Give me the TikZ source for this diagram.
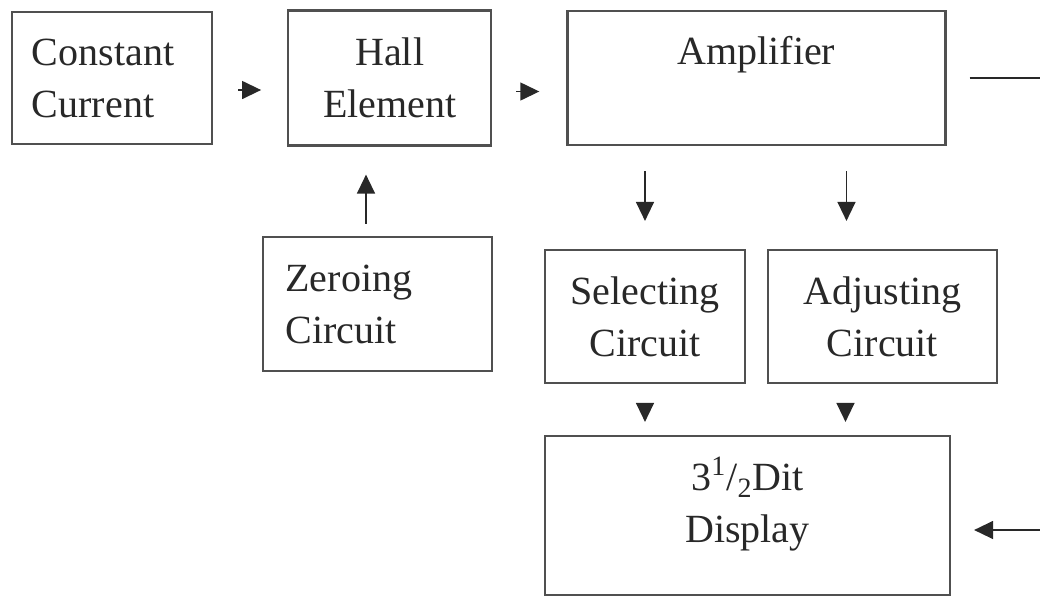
\documentclass[tikz,border=0pt]{standalone}
\usepackage{fontspec}
\setmainfont{Liberation Serif}
\definecolor{BoxGrey}{RGB}{80, 80, 80}
\definecolor{InkGrey}{RGB}{40, 40, 40}
\usepackage{tikz}
\usetikzlibrary{arrows.meta, positioning}
\newcommand{\blockfont}{\fontsize{20}{26}\selectfont}
\tikzset{
  block/.style={
    rectangle, draw=BoxGrey, line width=1.1pt, text=InkGrey,
    font=\blockfont, align=center, inner sep=0pt
  },
  flow/.style={line width=0.7pt, color=InkGrey, -{Triangle[length=9.5pt, width=9pt]}},
  inlabel/.style={anchor=north, font=\blockfont, text=InkGrey, align=center, inner sep=0pt},
}

\begin{document}
\begin{tikzpicture}[x=0.5pt, y=-0.5pt]
\useasboundingbox (0,0) rectangle (1040,596);

\node[block, minimum width=100pt, minimum height=66pt, text width=80pt, align=left] (cc) at (112,78) {
  Constant\\Current
};
\node[block, minimum width=101.5pt, minimum height=67.5pt, right=37pt of cc] (hall) {
  Hall\\Element
};
\node[block, minimum width=189pt, minimum height=67pt, right=37pt of hall,
  label={[inlabel, yshift=-13pt]north:Amplifier}] (amp) {};
\node[block, minimum width=114.5pt, minimum height=67pt, text width=92pt, align=left] (zero) at (377.5,304) {
  Zeroing\\Circuit
};
\node[block, minimum width=100pt, minimum height=66.5pt] (sel) at (645,316.5) {
  Selecting\\Circuit
};
\node[block, minimum width=114.5pt, minimum height=66.5pt] (adj) at (882.5,316.5) {
  Adjusting\\Circuit
};
\node[block, minimum width=202.5pt, minimum height=79.5pt,
  label={[inlabel, yshift=-11pt]north:3\textsuperscript{1}/\textsubscript{2}Dit\\Display}] (disp) at (747.5,515.5) {};

% signal path
\draw[flow, shorten <=12.5pt, shorten >=13pt] ([yshift=-6pt]cc.east) -- ([yshift=-6pt]cc.east -| hall.west);
\draw[flow, shorten <=12pt, shorten >=13.5pt] ([yshift=-6.75pt]hall.east) -- ([yshift=-6.75pt]hall.east -| amp.west);
\draw[flow, shorten <=6pt, shorten >=14pt] ([xshift=-5.75pt]zero.north) -- ([xshift=-5.75pt]zero.north |- hall.south);
\draw[flow, shorten <=12.5pt, shorten >=14pt] (sel.north |- amp.south) -- (sel.north);
\draw[flow, shorten <=12.5pt, shorten >=14pt] ([xshift=-18pt]adj.north |- amp.south) -- ([xshift=-18pt]adj.north);
\draw[flow, shorten <=9.5pt, shorten >=6.5pt] (sel.south) -- (sel.south |- disp.north);
\draw[flow, shorten <=9.5pt, shorten >=6.5pt] ([xshift=-18.5pt]adj.south) -- ([xshift=-18.5pt]adj.south |- disp.north);

% feedback leads
\coordinate (ampout) at (amp.east -| 1040,0);
\coordinate (dispin) at (1040,530);
\draw[line width=0.7pt, InkGrey, shorten <=11.5pt] (amp.east) -- (ampout);
\draw[flow, shorten >=11.5pt] (dispin) -- (dispin -| disp.east);
\end{tikzpicture}
\end{document}
